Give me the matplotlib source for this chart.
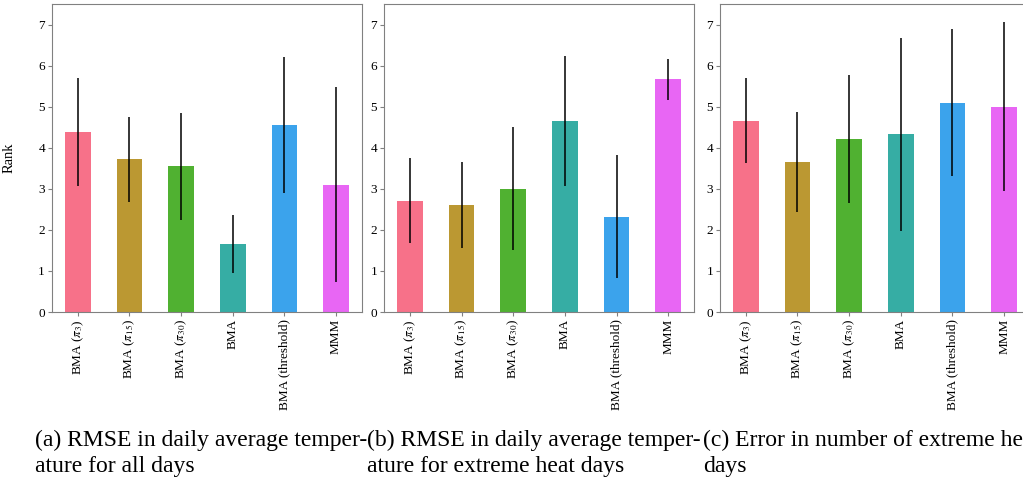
import matplotlib
matplotlib.use('Agg')
import matplotlib.pyplot as plt
import numpy as np
import pandas as pd
import seaborn as sns

# 手法名とランクの平均・標準偏差
methods = [r'BMA ($\pi_3$)', r'BMA ($\pi_{15}$)', r'BMA ($\pi_{30}$)',
           'BMA', 'BMA (threshold)', 'MMM']

rank_all = [4.38, 3.72, 3.55, 1.66, 4.56, 3.10]
err_all = [1.32, 1.03, 1.30, 0.70, 1.66, 2.37]

rank_heat = [2.71, 2.60, 3.00, 4.66, 2.32, 5.67]
err_heat = [1.03, 1.05, 1.50, 1.58, 1.50, 0.50]

rank_count = [4.66, 3.66, 4.22, 4.33, 5.10, 5.00]
err_count = [1.03, 1.22, 1.56, 2.35, 1.78, 2.06]

captions = ['(a) RMSE in daily average temper-\nature for all days',
            '(b) RMSE in daily average temper-\nature for extreme heat days',
            '(c) Error in number of extreme heat\ndays']

plt.rcParams['font.family'] = ['Liberation Serif', 'DejaVu Serif']
plt.rcParams['mathtext.fontset'] = 'stix'

colors = sns.color_palette('husl', 6)

fig = plt.figure(figsize=(10.23, 4.79), dpi=100)
lefts = [0.0508, 0.3754, 0.7038]
panels = [(rank_all, err_all), (rank_heat, err_heat), (rank_count, err_count)]

for i, (vals, errs) in enumerate(panels):
    ax = fig.add_axes([lefts[i], 0.3486, 0.303, 0.643])
    s = pd.Series(vals, index=methods)
    s.plot.bar(ax=ax, yerr=errs, color=colors, width=0.5,
               error_kw=dict(ecolor='black', elinewidth=1.1, capsize=0))
    ax.set_ylim(0, 7.5)
    ax.set_xlim(-0.5, 5.5)
    ax.set_yticks(range(8))
    ax.tick_params(labelsize=9.5, length=3, color='#808080', pad=2)
    for sp in ax.spines.values():
        sp.set_color('#808080')
    if i == 0:
        ax.set_ylabel('Rank', fontsize=10.5, labelpad=16)
    fig.text(lefts[i] - 0.0166, 0.103, captions[i], fontsize=17,
             ha='left', va='top', linespacing=1.3)

fig.savefig('out.png', dpi=100)
